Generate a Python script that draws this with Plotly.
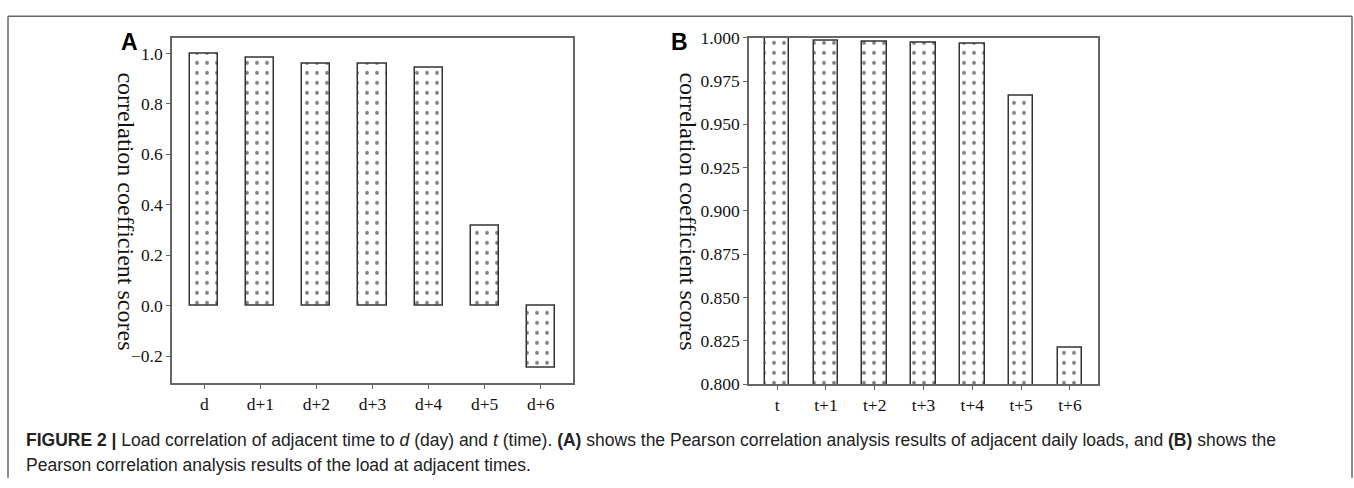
import plotly.graph_objects as go

W, H = 1354, 488

cats_a = ["d", "d+1", "d+2", "d+3", "d+4", "d+5", "d+6"]
vals_a = [1.0, 0.982, 0.957, 0.959, 0.944, 0.316, -0.247]
ticks_a = [-0.2, 0.0, 0.2, 0.4, 0.6, 0.8, 1.0]

cats_b = ["t", "t+1", "t+2", "t+3", "t+4", "t+5", "t+6"]
vals_b = [1.0, 0.998, 0.9976, 0.997, 0.9966, 0.9665, 0.8212]
ticks_b = [0.800, 0.825, 0.850, 0.875, 0.900, 0.925, 0.950, 0.975, 1.000]

def px_x(p):
    return p / W

def px_y(p):
    return 1 - p / H

serif = "Liberation Serif"
sans = "Liberation Sans"
frame_col = "#666666"

bar_style = dict(
    color="white",
    line=dict(color="#333333", width=1.5),
    pattern=dict(shape=".", fgcolor="black", bgcolor="white", size=10, solidity=0.12),
)

fig = go.Figure()
fig.add_trace(go.Bar(x=list(range(len(cats_a))), y=vals_a, width=0.5, marker=bar_style,
                     xaxis="x", yaxis="y", showlegend=False))
fig.add_trace(go.Bar(x=list(range(len(cats_b))), y=vals_b, width=0.5, marker=bar_style,
                     xaxis="x2", yaxis="y2", showlegend=False))

axis_common = dict(
    showline=True, mirror=True, linecolor=frame_col, linewidth=1.5,
    ticks="outside", ticklen=4, tickwidth=1, tickcolor=frame_col,
    showgrid=False, zeroline=False,
    tickfont=dict(family=serif, size=17.5, color="#111111"),
)

fig.update_layout(
    width=W, height=H,
    margin=dict(l=0, r=0, t=0, b=0),
    paper_bgcolor="white", plot_bgcolor="white",
    bargap=0,
    xaxis=dict(domain=[px_x(172), px_x(573)], range=[-0.575, 6.575],
               tickvals=list(range(len(cats_a))), ticktext=cats_a, anchor="y", **axis_common),
    yaxis=dict(domain=[px_y(389), px_y(29)], range=[-0.307, 1.062],
               tickvals=ticks_a, ticktext=[f"{v:.1f}".replace("-", "\u2212") for v in ticks_a],
               anchor="x", **axis_common),
    xaxis2=dict(domain=[px_x(749), px_x(1098)], range=[-0.575, 6.575],
                tickvals=list(range(len(cats_b))), ticktext=cats_b, anchor="y2", **axis_common),
    yaxis2=dict(domain=[px_y(390), px_y(29)], range=[0.8, 1.0],
                tickvals=ticks_b, ticktext=[f"{v:.3f}" for v in ticks_b],
                anchor="x2", **axis_common),
)

ylabel = "correlation coefficient scores"
for xp in (126, 688):
    fig.add_annotation(x=px_x(xp), y=px_y(210), xref="paper", yref="paper",
                       text=ylabel, textangle=90, showarrow=False,
                       font=dict(family=serif, size=24, color="#111111"),
                       xanchor="center", yanchor="middle")

for lab, xp in (("A", 129), ("B", 679)):
    fig.add_annotation(x=px_x(xp), y=px_y(33), xref="paper", yref="paper",
                       text=f"<b>{lab}</b>", showarrow=False,
                       font=dict(family=sans, size=23, color="black"),
                       xanchor="center", yanchor="middle")

cap1 = ("<b>FIGURE 2 |</b> Load correlation of adjacent time to <i>d</i> (day) and <i>t</i> (time). "
        "<b>(A)</b> shows the Pearson correlation analysis results of adjacent daily loads, and "
        "<b>(B)</b> shows the")
cap2 = "Pearson correlation analysis results of the load at adjacent times."
for txt, yp in ((cap1, 448), (cap2, 474)):
    fig.add_annotation(x=px_x(24), y=px_y(yp), xref="paper", yref="paper",
                       text=txt, showarrow=False,
                       font=dict(family=sans, size=17.5, color="#222222"),
                       xanchor="left", yanchor="middle")

# outer figure frame
line_style = dict(color="#666666", width=1.5)
fig.add_shape(type="line", xref="paper", yref="paper", x0=px_x(8), x1=px_x(1352), y0=px_y(6.5), y1=px_y(6.5), line=line_style)
fig.add_shape(type="line", xref="paper", yref="paper", x0=px_x(8), x1=px_x(8), y0=px_y(6.5), y1=0, line=line_style)
fig.add_shape(type="line", xref="paper", yref="paper", x0=px_x(1352), x1=px_x(1352), y0=px_y(6.5), y1=0, line=line_style)

fig.write_html("out.html")
